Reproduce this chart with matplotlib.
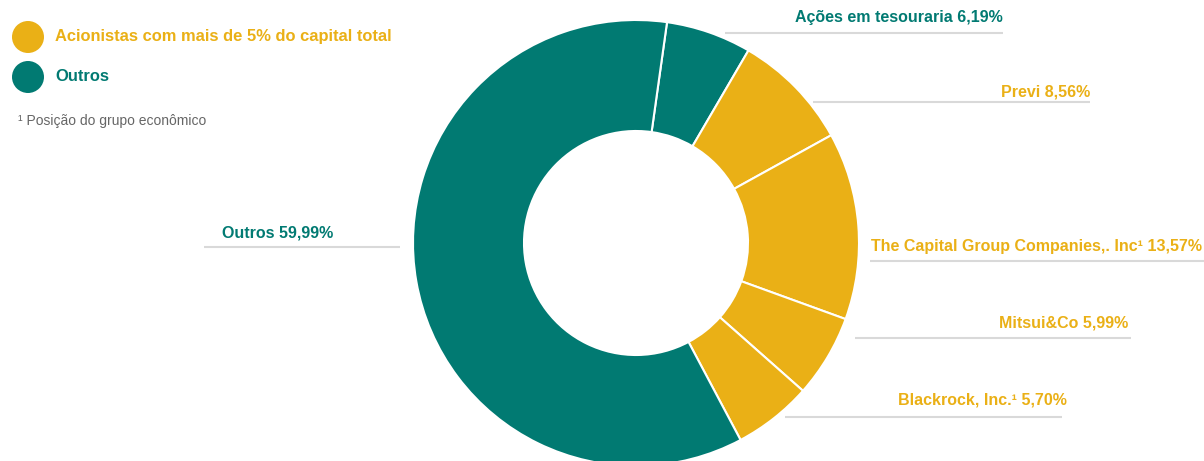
import matplotlib
matplotlib.use("Agg")
import matplotlib.pyplot as plt
from matplotlib.patches import Circle

# ---- data ----
labels = ["Ações em tesouraria", "Previ", "The Capital Group Companies,. Inc¹",
          "Mitsui&Co", "Blackrock, Inc.¹", "Outros"]
values = [6.19, 8.56, 13.57, 5.99, 5.70, 59.99]
groups = ["outros", "acion", "acion", "acion", "acion", "outros"]
legend_labels = ["Acionistas com mais de 5% do capital total", "Outros"]
footnote = "¹ Posição do grupo econômico"

TEAL = "#017A72"
GOLD = "#EAB016"
GRID = "#D9D9D9"
color_map = {"acion": GOLD, "outros": TEAL}
colors = [color_map[g] for g in groups]

W, H = 1204, 461
fig = plt.figure(figsize=(W / 100, H / 100), dpi=100)
ax = fig.add_axes([0, 0, 1, 1])
ax.set_xlim(0, W)
ax.set_ylim(0, H)
ax.set_aspect("equal")
ax.axis("off")

def Y(py):
    return H - py

cx, cy, R = 636, Y(243), 223
ax.pie(values, colors=colors, startangle=82, counterclock=False,
       center=(cx, cy), radius=R, frame=True,
       wedgeprops=dict(width=111, edgecolor="white", linewidth=1.5))
ax.set_xlim(0, W)
ax.set_ylim(0, H)
ax.axis("off")

def pct(v):
    return f"{v:.2f}".replace(".", ",") + "%"

# label placement: (text right edge x, text center y, line x0, line x1, line y)
placements = [
    (1003, 18, 725, 1003, 33),
    (1090, 92, 813, 1090, 102),
    (1202, 247, 870, 1204, 261),
    (1128, 323, 855, 1131, 338),
    (1067, 400, 785, 1062, 417),
    (333, 233, 204, 400, 247),
]
font = "Liberation Sans"
for lab, v, g, (tx, ty, x0, x1, ly) in zip(labels, values, groups, placements):
    ax.plot([x0, x1], [Y(ly), Y(ly)], color=GRID, lw=1.5, solid_capstyle="butt")
    ax.text(tx, Y(ty), f"{lab} {pct(v)}", ha="right", va="center",
            color=color_map[g], fontsize=11.5, fontweight="bold", family=font)

# legend
for i, (lab, key) in enumerate(zip(legend_labels, ["acion", "outros"])):
    y = [37, 77][i]
    ax.add_patch(Circle((28, Y(y)), 16, color=color_map[key], lw=0))
    ax.text(55, Y(y), lab, ha="left", va="center", color=color_map[key],
            fontsize=11.9, fontweight="bold", family=font)
ax.text(18, Y(121), footnote, ha="left", va="center", color="#666666",
        fontsize=10, family=font)

fig.savefig("out.png", dpi=100)
